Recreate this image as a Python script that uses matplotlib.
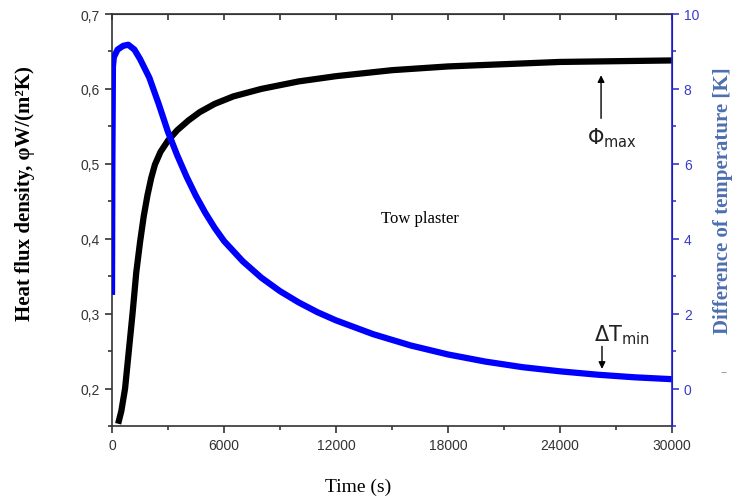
import matplotlib
matplotlib.use('Agg')
import matplotlib.pyplot as plt
from matplotlib.ticker import MultipleLocator, FuncFormatter

# heat flux density (left axis)
t_phi = [330, 500, 700, 900, 1100, 1300, 1500, 1700, 1900, 2100, 2300, 2600,
         3000, 3500, 4100, 4700, 5500, 6500, 8000, 10000, 12000, 15000, 18000,
         21000, 24000, 27000, 30000]
phi = [0.153, 0.170, 0.200, 0.250, 0.300, 0.355, 0.395, 0.430, 0.458, 0.481,
       0.499, 0.516, 0.531, 0.545, 0.558, 0.569, 0.580, 0.590, 0.600, 0.610,
       0.617, 0.625, 0.630, 0.633, 0.636, 0.637, 0.638]

# temperature difference (right axis)
t_dT = [0, 20, 50, 100, 300, 600, 870, 1200, 1500, 2000, 2500, 3000, 3500,
        4000, 4500, 5000, 5500, 6000, 7000, 8000, 9000, 10000, 11000, 12000,
        14000, 16000, 18000, 20000, 22000, 24000, 26000, 28000, 30000]
dT = [2.5, 6.0, 8.6, 8.85, 9.05, 9.15, 9.18, 9.05, 8.8, 8.3, 7.6, 6.85, 6.22,
      5.65, 5.14, 4.69, 4.29, 3.94, 3.40, 2.96, 2.60, 2.30, 2.04, 1.82, 1.45,
      1.15, 0.91, 0.72, 0.57, 0.46, 0.37, 0.30, 0.25]

x_ticks = [0, 6000, 12000, 18000, 24000, 30000]
left_ticks = [0.2, 0.3, 0.4, 0.5, 0.6, 0.7]
right_ticks = [0, 2, 4, 6, 8, 10]

sans = 'Liberation Sans'
serif = 'Liberation Serif'
grey = '#333333'
tick_blue = '#3a3acc'

fig = plt.figure(figsize=(7.35, 5.02), dpi=100)
ax = fig.add_axes([112 / 735, 75 / 502, 560 / 735, 412 / 502])
ax2 = ax.twinx()

ax.plot(t_phi, phi, color='black', lw=4.5, solid_capstyle='butt')
ax2.plot(t_dT, dT, color='#0000ff', lw=4.5, solid_capstyle='butt')

ax.set_xlim(0, 30000)
ax.set_ylim(0.15, 0.7)
ax2.set_ylim(-1, 10)

ax.set_xticks(x_ticks)
ax.xaxis.set_minor_locator(MultipleLocator(3000))
ax.set_yticks(left_ticks)
ax.yaxis.set_minor_locator(MultipleLocator(0.05))
ax.yaxis.set_major_formatter(FuncFormatter(lambda v, p: f'{v:.1f}'.replace('.', ',')))
ax2.set_yticks(right_ticks)
ax2.yaxis.set_minor_locator(MultipleLocator(1))

for lab in ax.get_xticklabels() + ax.get_yticklabels():
    lab.set_fontfamily(sans)
for lab in ax2.get_yticklabels():
    lab.set_fontfamily(sans)

ax.tick_params(which='both', direction='out', colors=grey, labelsize=10, width=1.2)
ax.tick_params(which='major', length=5)
ax.tick_params(which='minor', length=3)
ax2.tick_params(which='both', direction='out', colors=tick_blue, labelsize=10, width=1.2)
ax2.tick_params(which='major', length=5)
ax2.tick_params(which='minor', length=3)

top = ax.secondary_xaxis('top')
top.set_xticks(list(range(0, 30001, 3000)))
top.tick_params(direction='in', length=4, width=1.2, colors=grey, labeltop=False)
top.spines['top'].set_color(grey)

for s in ['left', 'bottom', 'top']:
    ax.spines[s].set_color(grey)
    ax.spines[s].set_linewidth(1.2)
ax2.spines['right'].set_color('#2222dd')
ax2.spines['right'].set_linewidth(1.2)
for s in ['left', 'bottom', 'top']:
    ax2.spines[s].set_visible(False)

ax.set_xlabel('Time (s)', fontfamily=serif, fontsize=14, va='center')
ax.xaxis.set_label_coords(0.44, -0.146)
ax.set_ylabel('Heat flux density, φW/(m²K)', fontfamily=serif, fontsize=15,
              fontweight='bold')
ax.yaxis.set_label_coords(-0.1375, 0.566)
ax2.set_ylabel('Difference of temperature [K]', fontfamily=serif, fontsize=15,
               fontweight='bold', color='#4d6fb0', rotation=90)
ax2.yaxis.set_label_coords(1.073, 0.55)
fig.text(724 / 735, 1 - 373 / 502, '–', color='#9a9a9a', fontsize=9,
         ha='center', va='center')

ax.text(16500, 0.428, 'Tow plaster', fontfamily=serif, fontsize=12,
        ha='center', va='center')

arrow = dict(arrowstyle='-|>', color='black', lw=1, mutation_scale=10)
ax.annotate('', xy=(26200, 0.622), xytext=(26200, 0.557), arrowprops=arrow)
ax.text(26800, 0.536, r'$\Phi_{\rm max}$', fontsize=15, ha='center', va='center',
        color='#222222')
ax2.annotate('', xy=(26250, 0.45), xytext=(26250, 1.2), arrowprops=arrow)
ax2.text(27300, 1.45, r'$\Delta\mathrm{T}_{\rm min}$', fontsize=15, ha='center',
         va='center', color='#222222')

fig.savefig('out.png', dpi=100)
